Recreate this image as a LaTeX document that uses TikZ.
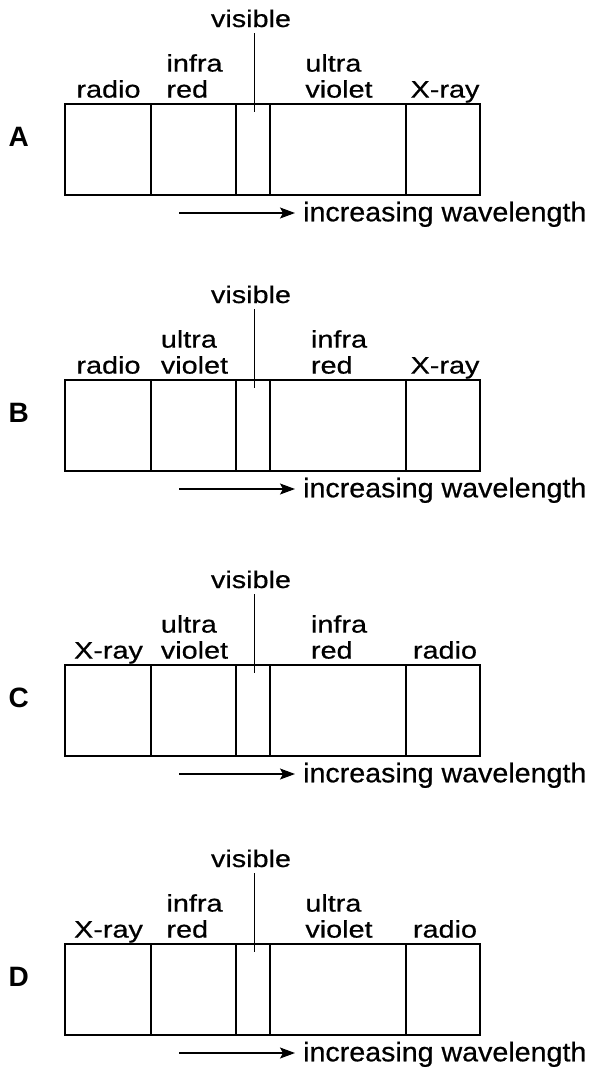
\documentclass[tikz,border=0pt]{standalone}
\usepackage{fontspec}
\setmainfont{Liberation Sans}
\newfontfamily\labfont{Liberation Sans}[FakeStretch=1.2, FakeBold=0.6]
\newfontfamily\incfont{Liberation Sans}[FakeStretch=1.06, FakeBold=0.6]
\usetikzlibrary{arrows.meta}
\tikzset{
  box/.style={draw, line width=1.8pt, minimum width=415pt, minimum height=91pt, inner sep=0pt},
  bar/.style={line width=1.9pt},
  lab/.style={anchor=south, inner sep=0pt, text depth=0pt, align=left,
              font=\labfont\fontsize{24}{26}\selectfont},
  letter/.style={anchor=base west, inner sep=0pt, font=\bfseries\fontsize{28}{30}\selectfont},
  inc/.style={anchor=base west, inner sep=0pt, font=\incfont\fontsize{27}{30}\selectfont},
  visline/.style={line width=0.8pt},
  arr/.style={line width=1.1pt, -{Stealth[length=15pt, width=11pt, inset=3pt]}}
}
\newcommand\spanel[6]{%
  \node[box] (box#1) at (272.5,#2+45.5) {};
  \draw[bar] (150.7,#2) -- (150.7,#2+91);
  \draw[bar] (236.3,#2) -- (236.3,#2+91);
  \draw[bar] (270.3,#2) -- (270.3,#2+91);
  \draw[bar] (406,#2) -- (406,#2+91);
  \node[letter] (let#1) at (8.5,#2+42) {#1};
  \node[lab] (la#1) at (108.5,#2-6.2) {#3};
  \node[lab] (lb#1) at (194.5,#2-6.2) {#4};
  \node[lab] (lc#1) at (339,#2-6.2) {#5};
  \node[lab] (ld#1) at (445,#2-6.2) {#6};
  \node[lab, anchor=base] (vis#1) at (251,#2-77) {visible};
  \coordinate (vend#1) at (254,#2+8);
  \draw[visline] ([yshift=-6pt]vis#1.south -| vend#1) -- (vend#1);
  \coordinate (as#1) at (179,#2+109);
  \node[inc] (inc#1) at (303,#2+117.3) {increasing wavelength};
  \draw[arr] (as#1) -- ([xshift=-8pt]inc#1.west |- as#1);
}
\begin{document}
\begin{tikzpicture}[x=1pt,y=-1pt]
\useasboundingbox (0,0) rectangle (596,1074);
\spanel{A}{104}{radio}{infra\\red}{ultra\\violet}{X-ray}
\spanel{B}{380}{radio}{ultra\\violet}{infra\\red}{X-ray}
\spanel{C}{665}{X-ray}{ultra\\violet}{infra\\red}{radio}
\spanel{D}{944}{X-ray}{infra\\red}{ultra\\violet}{radio}
\end{tikzpicture}
\end{document}
